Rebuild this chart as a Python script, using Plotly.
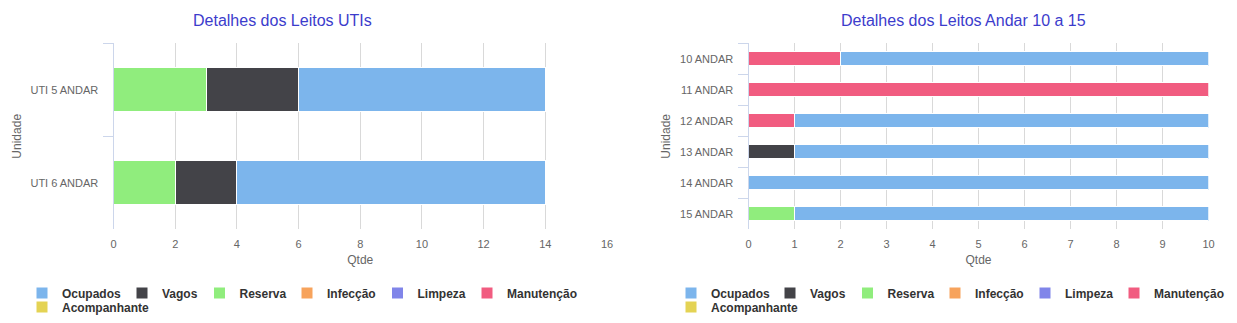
import plotly.graph_objects as go

# ---------------- data ----------------
series = ["Ocupados", "Vagos", "Reserva", "Infecção", "Limpeza", "Manutenção", "Acompanhante"]
colors = ["#7cb5ec", "#434348", "#90ed7d", "#f7a35c", "#8085e9", "#f15c80", "#e4d354"]

uti_units = ["UTI 5 ANDAR", "UTI 6 ANDAR"]
uti_ocupados = [8, 10]
uti_vagos = [3, 2]
uti_reserva = [3, 2]
uti_infeccao = [0, 0]
uti_limpeza = [0, 0]
uti_manutencao = [0, 0]
uti_acompanhante = [0, 0]

andar_units = ["10 ANDAR", "11 ANDAR", "12 ANDAR", "13 ANDAR", "14 ANDAR", "15 ANDAR"]
andar_ocupados = [8, 0, 9, 9, 10, 9]
andar_vagos = [0, 0, 0, 1, 0, 0]
andar_reserva = [0, 0, 0, 0, 0, 1]
andar_infeccao = [0, 0, 0, 0, 0, 0]
andar_limpeza = [0, 0, 0, 0, 0, 0]
andar_manutencao = [2, 10, 1, 0, 0, 0]
andar_acompanhante = [0, 0, 0, 0, 0, 0]

uti_values = [uti_ocupados, uti_vagos, uti_reserva, uti_infeccao,
              uti_limpeza, uti_manutencao, uti_acompanhante]
andar_values = [andar_ocupados, andar_vagos, andar_reserva, andar_infeccao,
                andar_limpeza, andar_manutencao, andar_acompanhante]

titles = ["Detalhes dos Leitos UTIs", "Detalhes dos Leitos Andar 10 a 15"]

# ---------------- layout constants ----------------
W, H = 1237, 323
FONT = "Liberation Sans, Arial, sans-serif"
ICON_OFF = 17  # px from legend x to swatch left edge

# legend swatch positions (px) for each chart: row1 items then row2
legend_px_left = [39, 139, 216.5, 304, 394.5, 484, 39]
legend_px_right = [688, 787, 864.5, 952, 1042, 1131, 688]
legend_row_y = [293, 293, 293, 293, 293, 293, 307]

fig = go.Figure()

charts = [
    dict(units=uti_units, values=uti_values, xa="x", ya="y", width=0.47, lpx=legend_px_left, lstart=1),
    dict(units=andar_units, values=andar_values, xa="x2", ya="y2", width=0.45, lpx=legend_px_right, lstart=8),
]

legends = {}
for ch in charts:
    # stacking order: last series nearest zero (Highcharts style)
    for i in reversed(range(len(series))):
        vals = [v if v else None for v in ch["values"][i]]
        lid_num = ch["lstart"] + i
        lid = "legend" if lid_num == 1 else f"legend{lid_num}"
        fig.add_trace(go.Bar(
            y=ch["units"], x=vals, name=series[i], orientation="h",
            marker=dict(color=colors[i], line=dict(color="#ffffff", width=1)),
            width=ch["width"], xaxis=ch["xa"], yaxis=ch["ya"], legend=lid,
            showlegend=True,
        ))
        legends[lid] = dict(
            x=(ch["lpx"][i] - ICON_OFF) / W, y=1 - legend_row_y[i] / H,
            xanchor="left", yanchor="middle", orientation="h",
            bgcolor="rgba(0,0,0,0)", borderwidth=0,
            font=dict(family=FONT, size=12, color="#333333", weight="bold"),
        )

ydom = [1 - 229.3 / H, 1 - 43.3 / H]
axis_common_y = dict(
    type="category", autorange="reversed", showgrid=False, zeroline=False,
    showline=True, linecolor="#ccd6eb", linewidth=1,
    ticks="outside", tickson="boundaries", ticklen=10, tickcolor="#ccd6eb",
    ticklabelstandoff=12, automargin=False,
    tickfont=dict(family=FONT, size=11, color="#666666"),
    title=dict(text="Unidade", font=dict(family=FONT, size=12, color="#666666"), standoff=6),
    domain=ydom,
)
axis_common_x = dict(
    showgrid=True, gridcolor="#d9d9d9", gridwidth=1, zeroline=False, showline=False,
    ticks="", ticklabelstandoff=7, automargin=False,
    tickfont=dict(family=FONT, size=11, color="#666666"),
    title=dict(text="Qtde", font=dict(family=FONT, size=12, color="#666666"), standoff=6),
)

fig.update_layout(
    width=W, height=H, margin=dict(l=0, r=0, t=0, b=0, autoexpand=False),
    paper_bgcolor="#ffffff", plot_bgcolor="#ffffff",
    barmode="stack", showlegend=True,
    font=dict(family=FONT),
    xaxis=dict(axis_common_x, domain=[113.5 / W, 607 / W], range=[0, 16], dtick=2, anchor="y"),
    yaxis=dict(axis_common_y, anchor="x"),
    xaxis2=dict(axis_common_x, domain=[748.5 / W, 1208.5 / W], range=[0, 10], dtick=1, anchor="y2"),
    yaxis2=dict(axis_common_y, anchor="x2"),
    annotations=[
        dict(text=titles[0], x=282 / W, y=1 - 20 / H, xref="paper", yref="paper",
             xanchor="center", yanchor="middle", showarrow=False,
             font=dict(family=FONT, size=16, color="#3c3ccc")),
        dict(text=titles[1], x=963.5 / W, y=1 - 20 / H, xref="paper", yref="paper",
             xanchor="center", yanchor="middle", showarrow=False,
             font=dict(family=FONT, size=16, color="#3c3ccc")),
    ],
    **legends,
)

fig.write_html("out.html")
